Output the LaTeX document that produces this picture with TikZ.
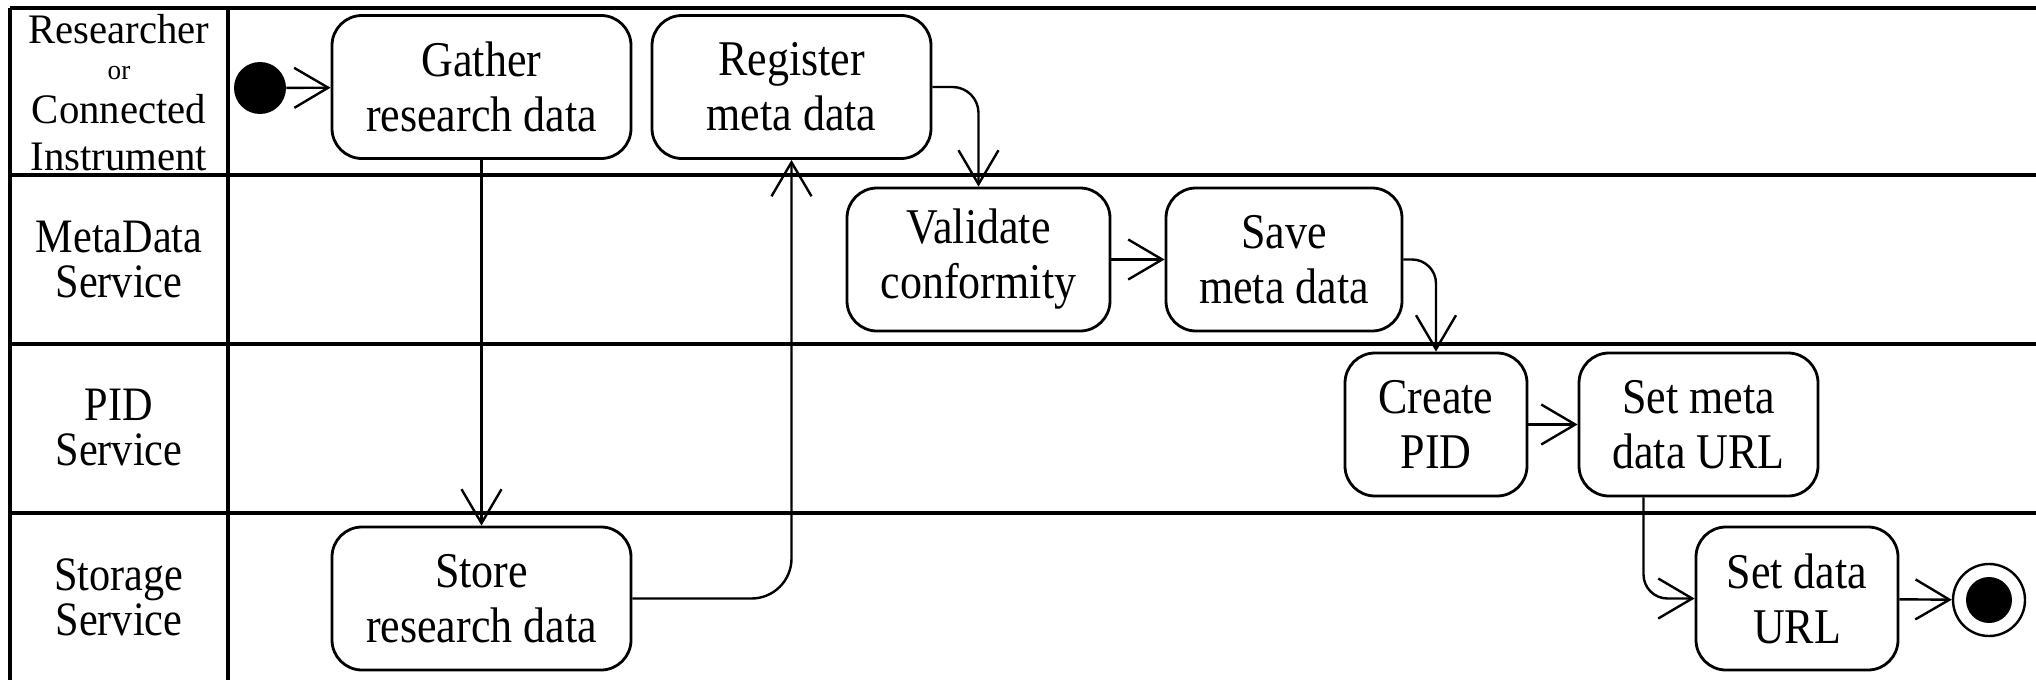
\documentclass[tikz,border=0pt]{standalone}
\usepackage{fontspec}
\setmainfont{Liberation Serif}[FakeStretch=0.88]
\newfontfamily\labelwide{Liberation Serif}[FakeStretch=0.97]
\usetikzlibrary{arrows.meta}
\begin{document}
\begin{tikzpicture}[x=0.5pt,y=-0.5pt,
  lane/.style={line width=1.6pt},
  act/.style={draw,line width=1.4pt,rounded corners=15pt,align=center,
    inner sep=0pt,minimum height=71.5pt,
    font=\fontsize{25}{27.5}\selectfont},
  flow/.style={line width=1.2pt,-{Straight Barb[length=17pt,width=20pt]}},
  lanelabel/.style={align=center,font=\fontsize{24}{22.5}\selectfont}
]
\useasboundingbox[fill=white] (0,0) rectangle (2036,680);

% swimlane grid
\draw[lane] (10,8) -- (2036,8);
\draw[lane] (10,175) -- (2036,175);
\draw[lane] (10,344) -- (2036,344);
\draw[lane] (10,513) -- (2036,513);
\draw[lane] (10,8) -- (10,680);
\draw[lane] (228,8) -- (228,680);

% lane titles
\node[lanelabel,font=\labelwide\fontsize{21}{22}\selectfont] (l1) at (119,93)
  {Researcher\\[-4pt]{\fontsize{14}{14}\selectfont or}\\Connected\\[1.5pt]Instrument};
\node[lanelabel] (l2) at (119,260) {MetaData\\Service};
\node[lanelabel] (l3) at (119,428) {PID\\Service};
\node[lanelabel] (l4) at (119,597) {Storage\\Service};

% activities
\node[act,minimum width=149.5pt] (gather) at (481.5,87) {Gather\\research data};
\node[act,minimum width=139.5pt] (register) at (791.5,87) {Register\\meta data};
\node[act,minimum width=131.5pt] (validate) at (978.5,259.5) {Validate\\conformity};
\node[act,minimum width=118pt] (save) at (1284,259.5) {Save\\meta data};
\node[act,minimum width=91pt] (create) at (1436,424.5) {Create\\PID};
\node[act,minimum width=119.5pt] (setmeta) at (1698.5,424.5) {Set meta\\data URL};
\node[act,minimum width=149.5pt] (store) at (481.5,598.5) {Store\\research data};
\node[act,minimum width=101pt] (setdata) at (1797,598.5) {Set data\\URL};

% initial and final states
\node[circle,fill,inner sep=0pt,minimum size=26pt] (start) at (260,88) {};
\node[circle,draw,line width=1.2pt,inner sep=0pt,minimum size=36pt] (final) at (1989,600) {};
\fill (final.center) circle (11.5pt);

% control flow
\draw[flow] (start) -- (gather);
\draw[flow] (gather.south) -- (store.north);
\draw[flow,rounded corners=20pt] (store.east) -| (register.south);
\draw[flow,rounded corners=13pt] (register.east) -| (validate.north);
\draw[flow] (validate) -- (save);
\draw[flow,rounded corners=12pt] (save.east) -| (create.north);
\draw[flow] (create) -- (setmeta);
\coordinate (drop) at ([xshift=-27.5pt]setmeta.south);
\draw[flow,rounded corners=12pt] (drop) |- (setdata.west);
\draw[flow] (setdata) -- (final);
\end{tikzpicture}
\end{document}
